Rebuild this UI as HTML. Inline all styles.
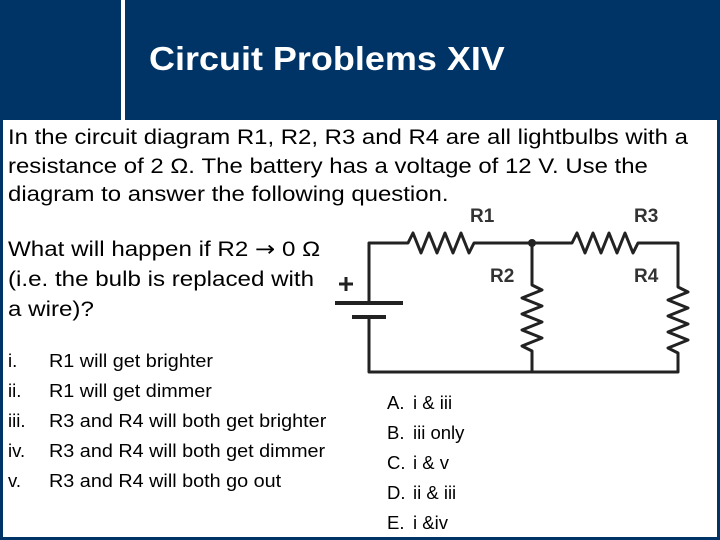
<!DOCTYPE html>
<html><head><style>
body{margin:0;width:720px;height:540px;background:#003466;position:relative;overflow:hidden;font-family:"Liberation Sans",Arial,sans-serif;color:#000}
.panel{position:absolute;left:3px;top:120px;width:714px;height:417px;background:#fff}
.vl{position:absolute;left:121px;top:0;width:4px;height:120px;background:#fff}
.title{position:absolute;left:149px;top:40px;color:#fff;font-weight:bold;font-size:33px;transform:scaleX(1.09);transform-origin:left}
.t{position:absolute;font-size:20px;line-height:30px;white-space:nowrap;transform-origin:left top}
</style></head><body>
<div class="vl"></div>
<div class="title">Circuit Problems XIV</div>
<div class="panel"></div>
<div class="t" style="left:8px;top:124px;font-size:21px;line-height:28.5px;transform:scaleX(1.14)">In the circuit diagram R1, R2, R3 and R4 are all lightbulbs with a<br>resistance of 2 Ω. The battery has a voltage of 12 V. Use the<br>diagram to answer the following question.</div>
<svg style="position:absolute;left:0;top:0" width="720" height="540">
<g fill="none" stroke="#222" stroke-width="3" stroke-linejoin="round">
<path d="M369 303V243H408l5 -10 8 20 8 -20 8 20 8 -20 8 20 8 -20 8 20 5 -10H572l5 -10 8 20 8 -20 8 20 8 -20 8 20 8 -20 8 20 5 -10H678V287l10 5 -20 8 20 8 -20 8 20 8 -20 8 20 8 -20 8 10 5V372H369V317"/>
<path d="M532 243V285l10 5 -20 8 20 8 -20 8 20 8 -20 8 20 8 -20 8 10 5V372"/>
<path d="M335 303H403M352 317H386" stroke-width="4"/>
<path d="M339 284H353M346 277V291" stroke-width="3"/>
</g>
<circle cx="532" cy="243" r="4" fill="#222"/>
<g font-family="Liberation Sans,Arial,sans-serif" font-weight="bold" font-size="19" fill="#333">
<text x="470" y="222">R1</text><text x="634" y="222">R3</text>
<text x="490" y="282">R2</text><text x="634" y="282">R4</text>
</g>
</svg>
<div class="t" style="left:8px;top:234px;font-size:21px;transform:scaleX(1.15)">What will happen if R2 <span style="font-family:'DejaVu Sans',sans-serif">→</span> 0 Ω<br>(i.e. the bulb is replaced with<br>a wire)?</div>
<div class="t" style="left:8px;top:346px;font-size:18.5px">i.<br>ii.<br>iii.<br>iv.<br>v.</div>
<div class="t" style="left:49px;top:346px;font-size:18.5px;transform:scaleX(1.07)">R1 will get brighter<br>R1 will get dimmer<br>R3 and R4 will both get brighter<br>R3 and R4 will both get dimmer<br>R3 and R4 will both go out</div>
<div class="t" style="left:387px;top:388px;font-size:18.5px">A.<br>B.<br>C.<br>D.<br>E.</div>
<div class="t" style="left:413px;top:388px;font-size:18.5px">i &amp; iii<br>iii only<br>i &amp; v<br>ii &amp; iii<br>i &amp;iv</div>
</body></html>
